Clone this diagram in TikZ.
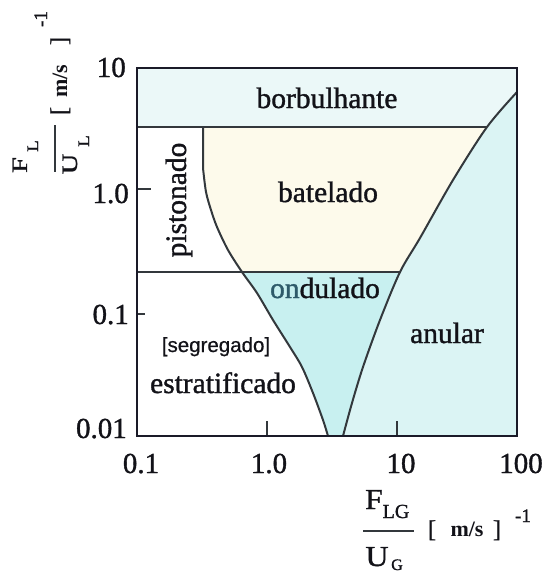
\documentclass[tikz,border=0pt]{standalone}
\usepackage{fontspec}
\setmainfont{Liberation Serif}
\setsansfont{Liberation Sans}
\newfontfamily\heavy{Liberation Serif}[FakeBold=1.2]
\newfontfamily\heavysans{Liberation Sans}[FakeBold=0.6]
\definecolor{ink}{HTML}{121218}
\definecolor{frame}{HTML}{1A1A28}
\definecolor{lineg}{HTML}{33383C}
\definecolor{bub}{HTML}{EBF8F8}
\definecolor{bat}{HTML}{FDFAEB}
\definecolor{ond}{HTML}{C8F0F0}
\definecolor{ann}{HTML}{DBF4F4}
\definecolor{onda}{HTML}{2E5A6A}
\begin{document}
\begin{tikzpicture}[x=1pt,y=-1pt,
  num/.style={font=\heavy\fontsize{29}{30}\selectfont, inner sep=0pt, text=ink},
  region/.style={font=\heavy\fontsize{29.5}{30}\selectfont, inner sep=0pt, anchor=base, text=ink},
  sansreg/.style={font=\heavysans\fontsize{20.5}{21}\selectfont, inner sep=0pt, anchor=base, text=ink},
  axbig/.style={font=\heavy\fontsize{22}{23}\selectfont, inner sep=0pt, anchor=base, text=ink},
  axsub/.style={font=\heavy\fontsize{16}{17}\selectfont, inner sep=0pt, anchor=base, text=ink},
  xbig/.style={font=\heavy\fontsize{29}{30}\selectfont, inner sep=0pt, anchor=base, text=ink},
  xsub/.style={font=\heavy\fontsize{20}{21}\selectfont, inner sep=0pt, anchor=base, text=ink},
  brk/.style={font=\heavy\fontsize{24}{25}\selectfont, inner sep=0pt, anchor=base, text=ink},
  unit/.style={font=\bfseries\fontsize{22}{23}\selectfont, inner sep=0pt, anchor=base, text=ink},
  expo/.style={font=\heavy\fontsize{19}{20}\selectfont, inner sep=0pt, anchor=base, text=ink},
  curve/.style={draw=lineg, line width=2pt, line join=round},
  hline/.style={draw=lineg, line width=2.2pt},
  boxline/.style={draw=frame, line width=2.8pt},
  tickline/.style={draw=lineg, line width=2pt}]
\useasboundingbox (0,0) rectangle (544,574);
\clip (0,0) rectangle (544,574);
\fill[white] (0,0) rectangle (544,574);
% corners
\coordinate (TL) at (137,68);
\coordinate (BR) at (517,436);
% region fills
\fill[bub] (TL) rectangle (BR);
\fill[white] (137,127) -- (487,127) -- plot[smooth] coordinates {(487,127) (453,180) (420,238) (400,272) (380,320) (363,367) (352,403) (343,436)} -- (137,436) -- cycle;
\fill[ann] plot[smooth] coordinates {(517,92) (487,127) (453,180) (420,238) (400,272) (380,320) (363,367) (352,403) (343,436)} -- (517,436) -- cycle;
\fill[bat] (203,127) -- (487,127) -- plot[smooth] coordinates {(487,127) (453,180) (420,238) (400,272)} -- (242,272) -- plot[smooth] coordinates {(242,272) (228,250) (217,227) (211,210) (206,192) (203,168)} -- cycle;
\fill[ond] (242,272) -- (400,272) -- plot[smooth] coordinates {(400,272) (380,320) (363,367) (352,403) (343,436)} -- (328,436) -- plot[smooth] coordinates {(328,436) (323,420) (313,393) (302,367) (290,347) (273,320) (257,293) (242,272)} -- cycle;
% boundaries
\coordinate (hA) at (137,127);
\coordinate (hB) at (487,127);
\coordinate (oA) at (137,272);
\coordinate (oB) at (400,272);
\draw[hline] (hA) -- (hB);
\draw[hline] (oA) -- (oB);
\draw[curve] plot[smooth] coordinates {(517,92) (487,127) (453,180) (420,238) (400,272) (380,320) (363,367) (352,403) (343,436)};
\draw[curve] (203,127) -- (203,168) -- plot[smooth] coordinates {(203,168) (206,192) (211,210) (217,227) (228,250) (242,272) (257,293) (273,320) (290,347) (302,367) (313,393) (323,420) (328,436)};
% ticks
\coordinate (t1a) at (267,436); \coordinate (t1b) at (267,421);
\coordinate (t2a) at (397,436); \coordinate (t2b) at (397,421);
\coordinate (t3a) at (137,189); \coordinate (t3b) at (151,189);
\coordinate (t4a) at (137,314); \coordinate (t4b) at (145,314);
\draw[tickline] (t1a) -- (t1b);
\draw[tickline] (t2a) -- (t2b);
\draw[tickline] (t3a) -- (t3b);
\draw[tickline] (t4a) -- (t4b);
% frame
\draw[boxline] (TL) rectangle (BR);
% axis numbers
\node[num, anchor=base east] (y10) at (126,77) {10};
\node[num, anchor=base east] (y1) at (129,203) {1.0};
\node[num, anchor=base east] (y01) at (129,324) {0.1};
\node[num, anchor=base east] (y001) at (127,438) {0.01};
\node[num, anchor=base] (x01) at (141,473) {0.1};
\node[num, anchor=base] (x1) at (269,473) {1.0};
\node[num, anchor=base] (x10) at (401,473) {10};
\node[num, anchor=base] (x100) at (521,473) {100};
% region labels
\node[region] (borb) at (327,108) {borbulhante};
\node[region] (bate) at (328,202) {batelado};
\node[region, rotate=90] (pist) at (186,200) {pistonado};
\node[region] (ondu) at (325,298) {{\color{onda}on}dulado};
\node[region] (anul) at (447,343) {anular};
\node[sansreg] (segr) at (216,352) {[segregado]};
\node[region] (estr) at (223,393) {estratificado};
% y-axis label
\node[axbig, rotate=90, xscale=1.3] (yF) at (27,165) {F};
\node[axsub, rotate=90, xscale=1.2] (yFL) at (38,146) {L};
\coordinate (ybarA) at (55,125);
\coordinate (ybarB) at (55,172);
\draw[draw=lineg, line width=2pt] (ybarA) -- (ybarB);
\node[axbig, rotate=90, xscale=1.3] (yU) at (77,164) {U};
\node[axsub, rotate=90, xscale=1.2] (yUL) at (89,141) {L};
\node[brk, rotate=90] (yb1) at (67,111) {[};
\node[unit, rotate=90] (yms) at (67,81) {m/s};
\node[brk, rotate=90] (yb2) at (67,41) {]};
\node[expo, rotate=90] (yexp) at (47,19) {-1};
% x-axis label
\node[xbig, xscale=1.1] (xF) at (374,509) {F};
\node[xsub] (xLG) at (396,518) {LG};
\coordinate (xbarA) at (363,531);
\coordinate (xbarB) at (414,531);
\draw[draw=lineg, line width=2pt] (xbarA) -- (xbarB);
\node[xbig, xscale=1.1] (xU) at (377,566) {U};
\node[xsub, font=\heavy\fontsize{16}{17}\selectfont] (xG) at (397,570) {G};
\node[brk] (xb1) at (432,537) {[};
\node[unit] (xms) at (467,536) {m/s};
\node[brk] (xb2) at (497,537) {]};
\node[expo] (xexp) at (523,522) {-1};
\end{tikzpicture}
\end{document}
